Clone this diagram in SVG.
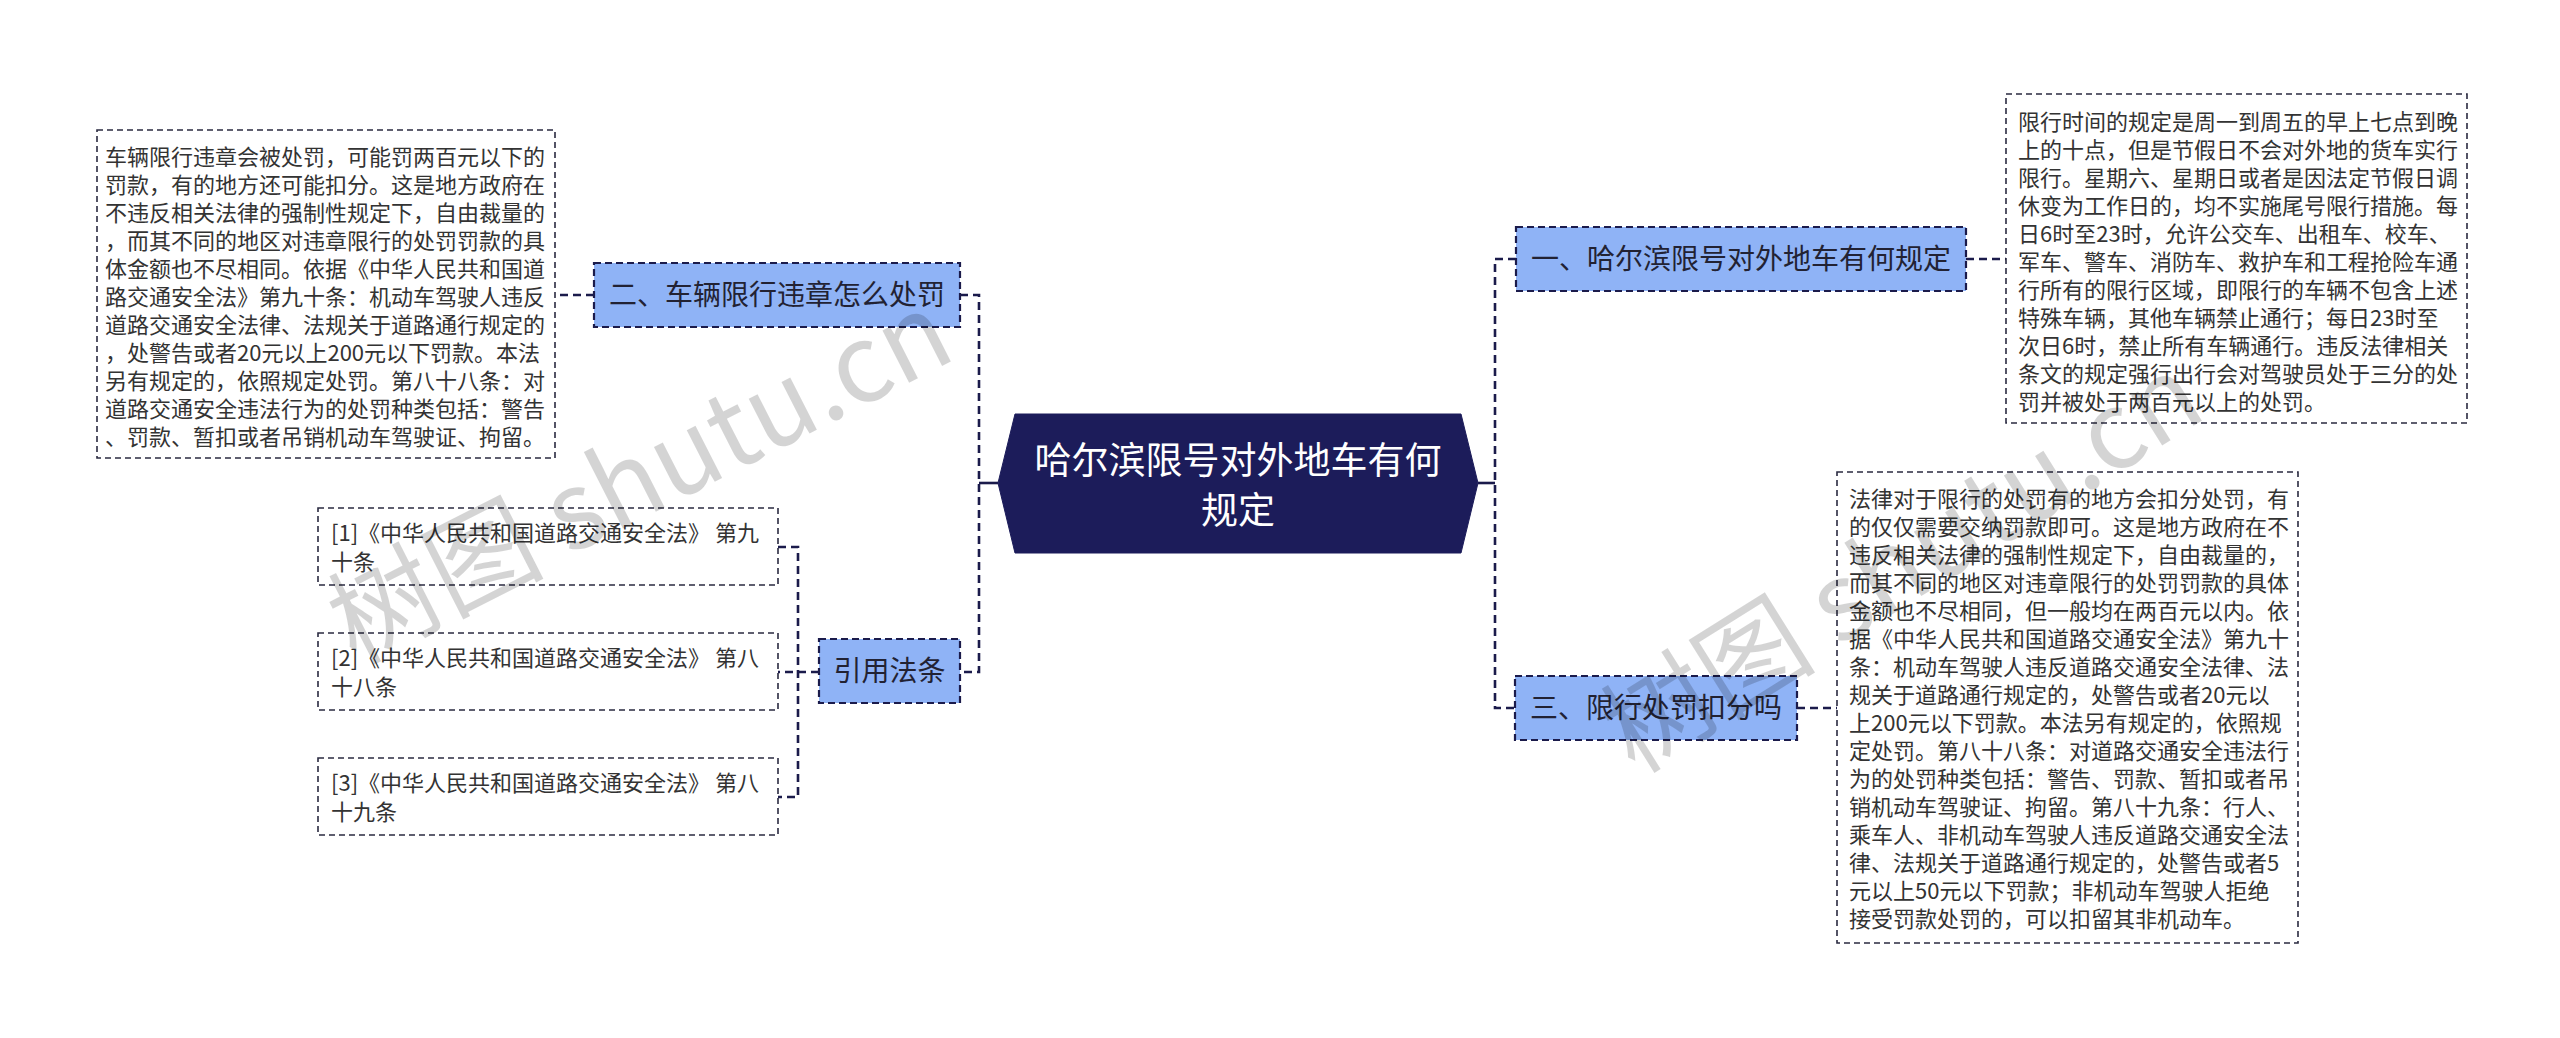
<svg xmlns="http://www.w3.org/2000/svg" width="2560" height="1038" viewBox="0 0 2560 1038">
<style>
.bg{fill:#ffffff}
.conn{fill:none;stroke:#1b1b4b;stroke-width:2.6;stroke-dasharray:8 5}
.solid{fill:none;stroke:#1b1b4b;stroke-width:2.6}
.topic{fill:#8fb3f6;stroke:#1b1b4b;stroke-width:2.2;stroke-dasharray:7 4}
.note{fill:#ffffff;stroke:#2a2a40;stroke-width:1.6;stroke-dasharray:6 4}
.root{fill:#1c1c5a;stroke:#1c1c5a;stroke-width:1}
.rt{font-family:"Noto Sans CJK SC","Noto Sans",sans-serif;font-size:37px;fill:#ffffff;text-anchor:middle}
.tt{font-family:"Noto Sans CJK SC","Noto Sans",sans-serif;font-size:28px;fill:#222233;text-anchor:middle}
.nt{font-family:"Noto Sans CJK SC","Noto Sans",sans-serif;font-size:22px;fill:#333333}
.wm{font-family:"Noto Sans CJK SC","Noto Sans",sans-serif;font-size:108px;fill:#000000;fill-opacity:0.17}
</style>
<rect class="bg" x="0" y="0" width="2560" height="1038"/>

<g id="connectors">
  <line class="solid" x1="998" y1="483" x2="979" y2="483"/>
  <line class="solid" x1="1478" y1="483" x2="1495" y2="483"/>
  <path class="conn" d="M960 295 H979 V672 H960"/>
  <path class="conn" d="M1516 259 H1495 V708 H1515"/>
  <line class="conn" x1="594" y1="295" x2="555" y2="295"/>
  <line class="conn" x1="1966" y1="259" x2="2006" y2="259"/>
  <line class="conn" x1="1797" y1="708" x2="1837" y2="708"/>
  <path class="conn" d="M819 672 H778"/>
  <path class="conn" d="M778 547 H798 V797 H778"/>
</g>

<g id="root">
  <polygon class="root" points="998,483 1015,414 1461,414 1478,483 1461,553 1015,553"/>
  <text class="rt" x="1238" y="474">哈尔滨限号对外地车有何</text>
  <text class="rt" x="1238" y="524">规定</text>
</g>

<g id="node-1">
  <rect class="topic" x="1516" y="227" width="450" height="64"/>
  <text class="tt" x="1741" y="269">一、哈尔滨限号对外地车有何规定</text>
</g>
<g id="node-2">
  <rect class="topic" x="594" y="263" width="366" height="64"/>
  <text class="tt" x="777" y="305">二、车辆限行违章怎么处罚</text>
</g>
<g id="node-3">
  <rect class="topic" x="1515" y="676" width="282" height="64"/>
  <text class="tt" x="1656" y="718">三、限行处罚扣分吗</text>
</g>
<g id="node-ref">
  <rect class="topic" x="819" y="639" width="141" height="64"/>
  <text class="tt" x="889.5" y="681">引用法条</text>
</g>

<g id="note-1">
  <rect class="note" x="2006" y="94" width="461" height="329"/>
  <text class="nt" x="2018">
    <tspan x="2018" y="130">限行时间的规定是周一到周五的早上七点到晚</tspan>
    <tspan x="2018" y="158">上的十点，但是节假日不会对外地的货车实行</tspan>
    <tspan x="2018" y="186">限行。星期六、星期日或者是因法定节假日调</tspan>
    <tspan x="2018" y="214">休变为工作日的，均不实施尾号限行措施。每</tspan>
    <tspan x="2018" y="242">日6时至23时，允许公交车、出租车、校车、</tspan>
    <tspan x="2018" y="270">军车、警车、消防车、救护车和工程抢险车通</tspan>
    <tspan x="2018" y="298">行所有的限行区域，即限行的车辆不包含上述</tspan>
    <tspan x="2018" y="326">特殊车辆，其他车辆禁止通行；每日23时至</tspan>
    <tspan x="2018" y="354">次日6时，禁止所有车辆通行。违反法律相关</tspan>
    <tspan x="2018" y="382">条文的规定强行出行会对驾驶员处于三分的处</tspan>
    <tspan x="2018" y="410">罚并被处于两百元以上的处罚。</tspan>
  </text>
</g>

<g id="note-2">
  <rect class="note" x="97" y="130" width="458" height="328"/>
  <text class="nt">
    <tspan x="105" y="165">车辆限行违章会被处罚，可能罚两百元以下的</tspan>
    <tspan x="105" y="193">罚款，有的地方还可能扣分。这是地方政府在</tspan>
    <tspan x="105" y="221">不违反相关法律的强制性规定下，自由裁量的</tspan>
    <tspan x="105" y="249">，而其不同的地区对违章限行的处罚罚款的具</tspan>
    <tspan x="105" y="277">体金额也不尽相同。依据《中华人民共和国道</tspan>
    <tspan x="105" y="305">路交通安全法》第九十条：机动车驾驶人违反</tspan>
    <tspan x="105" y="333">道路交通安全法律、法规关于道路通行规定的</tspan>
    <tspan x="105" y="361">，处警告或者20元以上200元以下罚款。本法</tspan>
    <tspan x="105" y="389">另有规定的，依照规定处罚。第八十八条：对</tspan>
    <tspan x="105" y="417">道路交通安全违法行为的处罚种类包括：警告</tspan>
    <tspan x="105" y="445">、罚款、暂扣或者吊销机动车驾驶证、拘留。</tspan>
  </text>
</g>

<g id="note-3">
  <rect class="note" x="1837" y="472" width="461" height="471"/>
  <text class="nt">
    <tspan x="1849" y="507">法律对于限行的处罚有的地方会扣分处罚，有</tspan>
    <tspan x="1849" y="535">的仅仅需要交纳罚款即可。这是地方政府在不</tspan>
    <tspan x="1849" y="563">违反相关法律的强制性规定下，自由裁量的，</tspan>
    <tspan x="1849" y="591">而其不同的地区对违章限行的处罚罚款的具体</tspan>
    <tspan x="1849" y="619">金额也不尽相同，但一般均在两百元以内。依</tspan>
    <tspan x="1849" y="647">据《中华人民共和国道路交通安全法》第九十</tspan>
    <tspan x="1849" y="675">条：机动车驾驶人违反道路交通安全法律、法</tspan>
    <tspan x="1849" y="703">规关于道路通行规定的，处警告或者20元以</tspan>
    <tspan x="1849" y="731">上200元以下罚款。本法另有规定的，依照规</tspan>
    <tspan x="1849" y="759">定处罚。第八十八条：对道路交通安全违法行</tspan>
    <tspan x="1849" y="787">为的处罚种类包括：警告、罚款、暂扣或者吊</tspan>
    <tspan x="1849" y="815">销机动车驾驶证、拘留。第八十九条：行人、</tspan>
    <tspan x="1849" y="843">乘车人、非机动车驾驶人违反道路交通安全法</tspan>
    <tspan x="1849" y="871">律、法规关于道路通行规定的，处警告或者5</tspan>
    <tspan x="1849" y="899">元以上50元以下罚款；非机动车驾驶人拒绝</tspan>
    <tspan x="1849" y="927">接受罚款处罚的，可以扣留其非机动车。</tspan>
  </text>
</g>

<g id="ref-1">
  <rect class="note" x="318" y="508" width="460" height="77"/>
  <text class="nt">
    <tspan x="331" y="541">[1]《中华人民共和国道路交通安全法》 第九</tspan>
    <tspan x="331" y="570">十条</tspan>
  </text>
</g>
<g id="ref-2">
  <rect class="note" x="318" y="633" width="460" height="77"/>
  <text class="nt">
    <tspan x="331" y="666">[2]《中华人民共和国道路交通安全法》 第八</tspan>
    <tspan x="331" y="695">十八条</tspan>
  </text>
</g>
<g id="ref-3">
  <rect class="note" x="318" y="758" width="460" height="77"/>
  <text class="nt">
    <tspan x="331" y="791">[3]《中华人民共和国道路交通安全法》 第八</tspan>
    <tspan x="331" y="820">十九条</tspan>
  </text>
</g>

<g id="watermark">
  <text class="wm" x="355" y="665" transform="rotate(-27 355 665)">树图 shutu.cn</text>
  <text class="wm" x="1635" y="775" transform="rotate(-32 1635 775)">树图 shutu.cn</text>
</g>
</svg>
